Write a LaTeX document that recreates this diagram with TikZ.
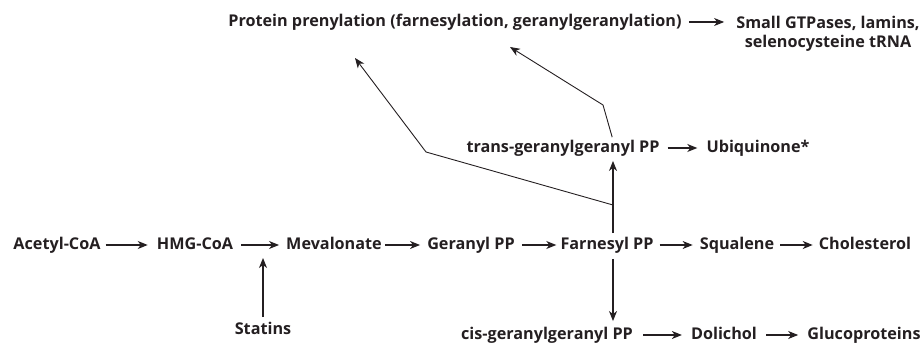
\documentclass[tikz,border=0pt]{standalone}
\usepackage{fontspec}
\setmainfont{Open Sans}
\usepackage{tikz}
\usetikzlibrary{positioning, arrows.meta, calc}
\definecolor{inkgray}{rgb}{0.14, 0.12, 0.13}

\begin{document}
\begin{tikzpicture}[x=1pt, y=-1pt, every node/.style={transform shape}]
		\tikzstyle{mol}=[inner sep=0pt, text=inkgray, font=\fontsize{16.2}{18.5}\selectfont\bfseries, text height=12pt, text depth=3.5pt]
		\tikzstyle{rxn}=[draw=inkgray, line width=1.2pt, -{Stealth[length=10pt, width=8pt, inset=3pt]}]
		\tikzstyle{branch}=[draw=inkgray, line width=0.9pt, -{Stealth[length=10pt, width=8pt, inset=3pt]}]
		
		\useasboundingbox (0,0) rectangle (923,344);
		
		%% main row
		\node [mol] (acetyl) at (57,245) {Acetyl-CoA};
		\node [mol] (hmg) at (195,245) {HMG-CoA};
		\node [mol] (meva) at (334,245) {Mevalonate};
		\node [mol] (geranyl) at (471,245) {Geranyl PP};
		\node [mol] (farnesyl) at (607,245) {Farnesyl PP};
		\node [mol] (squalene) at (737,245) {Squalene};
		\node [mol] (chol) at (865,245) {Cholesterol};
		
		\node [mol] (statins) at (263,330) {Statins};
		
		%% lower row
		\node [mol] (cis) at (547,335) {cis-geranylgeranyl PP};
		\node [mol] (dolichol) at (724,335) {Dolichol};
		\node [mol] (gluco) at (864,335) {Glucoproteins};
		
		%% upper rows
		\node [mol] (trans) at (563,148) {trans-geranylgeranyl PP};
		\node [mol] (ubiq) at (758,148) {Ubiquinone*};
		\node [mol] (prot) at (455,22) {Protein prenylation (farnesylation, geranylgeranylation)};
		\node [mol, align=center, text height=, text depth=] (gtp) at (828,34) {Small GTPases, lamins,\\selenocysteine tRNA};
		
		\coordinate (fork) at (613,205);
		\coordinate (bendL) at (426,152);
		\coordinate (bendR) at (603,105);
		\coordinate (tipL) at (355,58);
		\coordinate (tipR) at (510,47);
		\coordinate (blockHMG) at (263,258);
		
		\draw [rxn, shorten <=5pt, shorten >=9pt] (acetyl.east) -- (hmg.west);
		\draw [rxn, shorten <=8pt, shorten >=7pt] (hmg.east) -- (meva.west);
		\draw [rxn, shorten <=3pt, shorten >=7pt] (meva.east) -- (geranyl.west);
		\draw [rxn, shorten <=7pt, shorten >=4pt] (geranyl.east) -- (farnesyl.west);
		\draw [rxn, shorten <=6pt, shorten >=7pt] (farnesyl.east) -- (squalene.west);
		\draw [rxn, shorten <=6pt, shorten >=6pt] (squalene.east) -- (chol.west);
		
		\draw [rxn, shorten <=5pt] (statins.north) -- (blockHMG);
		
		\draw [rxn, shorten <=6pt, shorten >=6pt] (farnesyl.south -| fork) -- (cis.north -| fork);
		\draw [rxn, shorten <=10pt, shorten >=9pt] (cis.east) -- (dolichol.west);
		\draw [rxn, shorten <=9pt, shorten >=9pt] (dolichol.east) -- (gluco.west);
		
		\draw [rxn, shorten <=4pt, shorten >=5pt] (farnesyl.north -| fork) -- (trans.south -| fork);
		\draw [rxn, shorten <=8pt, shorten >=9pt] (trans.east) -- (ubiq.west);
		\draw [rxn, shorten <=7pt, shorten >=12pt] (prot.east) -- (prot.east -| gtp.west);
		
		\draw [branch] (fork) -- (bendL) -- (tipL);
		\draw [branch, shorten <=3pt] (trans.north -| fork) -- (bendR) -- (tipR);
		
		\end{tikzpicture}
\end{document}
